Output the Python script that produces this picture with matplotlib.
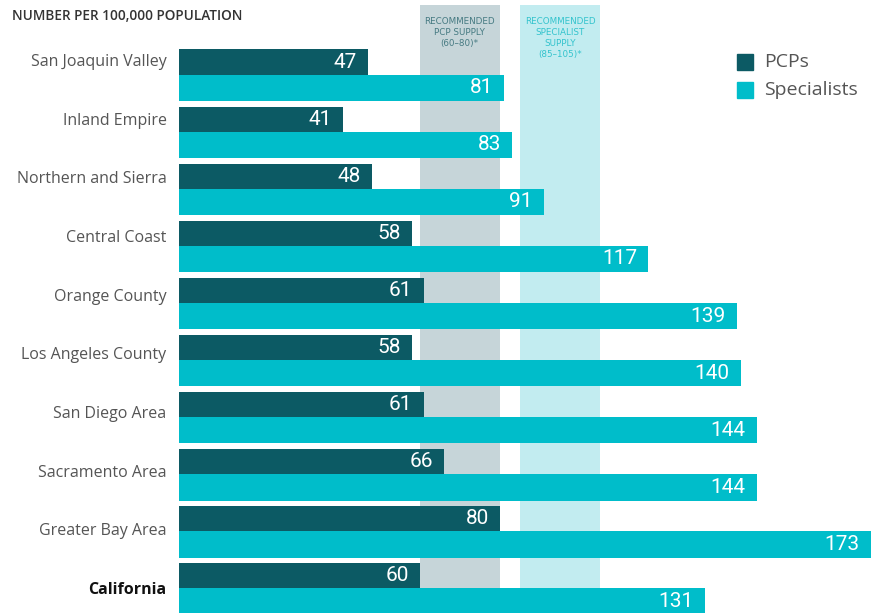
import matplotlib.pyplot as plt
import numpy as np

regions = ['San Joaquin Valley', 'Inland Empire', 'Northern and Sierra', 'Central Coast',
           'Orange County', 'Los Angeles County', 'San Diego Area', 'Sacramento Area',
           'Greater Bay Area', 'California']
pcps = [47, 41, 48, 58, 61, 58, 61, 66, 80, 60]
specialists = [81, 83, 91, 117, 139, 140, 144, 144, 173, 131]
pcp_range = (60, 80)
spec_range = (85, 105)

pcp_color = '#0c5a64'
spec_color = '#00bdca'
label_gray = '#555555'
num_font = ['Roboto', 'DejaVu Sans']

fig = plt.figure(figsize=(8.71, 6.13), dpi=100)
ax = fig.add_axes([179 / 871, 0, 692 / 871, 1])

y = np.arange(len(regions))
h = 0.44

# recommended supply bands
ax.fill_betweenx([-1.0, 11], pcp_range[0], pcp_range[1], color='#c6d5d9', lw=0, zorder=0)
ax.fill_betweenx([-1.0, 11], spec_range[0], spec_range[1], color='#c2ecf0', lw=0, zorder=0)
ax.text(sum(pcp_range) / 2, -0.78, 'RECOMMENDED\nPCP SUPPLY\n(60\u201380)*', ha='center', va='top',
        fontsize=6.3, color='#467a82', linespacing=1.25)
ax.text(sum(spec_range) / 2, -0.78, 'RECOMMENDED\nSPECIALIST\nSUPPLY\n(85\u2013105)*', ha='center',
        va='top', fontsize=6.3, color='#33c3cd', linespacing=1.25)

ax.barh(y, pcps, height=h, color=pcp_color, zorder=2)
ax.barh(y + 0.45, specialists, height=0.46, color=spec_color, zorder=2)

for yi, v in zip(y, pcps):
    ax.annotate(str(v), (v, yi), xytext=(-8, 0), textcoords='offset points', ha='right',
                va='center', color='white', fontsize=15, family=num_font, zorder=3)
for yi, v in zip(y, specialists):
    ax.annotate(str(v), (min(v, 172.5), yi + 0.45), xytext=(-8, 0), textcoords='offset points',
                ha='right', va='center', color='white', fontsize=15, family=num_font, zorder=3)

ax.set_xlim(0, 172.5)
ax.set_ylim(9.65, -1.086)
ax.axis('off')

# category labels sit on a slightly wider pitch than the bars
for yi, name in zip(y, regions):
    bold = name == 'California'
    ax.annotate(name, (0, yi * 1.0275), xytext=(-9, 0), textcoords='offset points',
                ha='right', va='center', fontsize=11.5, family='Open Sans',
                color='#111111' if bold else label_gray,
                fontweight='bold' if bold else 'normal', annotation_clip=False)

fig.text(12 / 871, 1 - 16 / 613, 'NUMBER PER 100,000 POPULATION', ha='left', va='center',
         fontsize=9.8, fontweight='semibold', color='#333333', family='Open Sans')

# legend
fig.patches.append(plt.Rectangle((737 / 871, 1 - 70 / 613), 16 / 871, 16 / 613,
                                 transform=fig.transFigure, color=pcp_color))
fig.patches.append(plt.Rectangle((737 / 871, 1 - 98 / 613), 16 / 871, 16 / 613,
                                 transform=fig.transFigure, color=spec_color))
fig.text(764 / 871, 1 - 62 / 613, 'PCPs', ha='left', va='center', fontsize=14,
         color=label_gray, family='Open Sans')
fig.text(764 / 871, 1 - 90 / 613, 'Specialists', ha='left', va='center', fontsize=14,
         color=label_gray, family='Open Sans')

fig.savefig('out.png', dpi=100)
